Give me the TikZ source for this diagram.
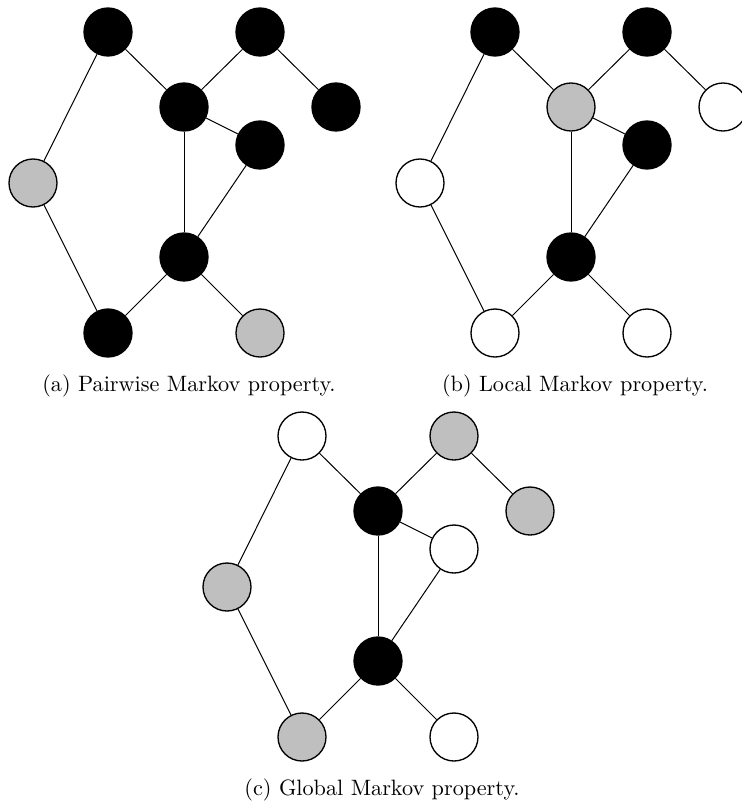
\documentclass[tikz,border=0pt]{standalone}
\definecolor{nodegray}{RGB}{191,191,191}
\tikzset{
  vtx/.style={circle, draw=black, line width=0.6pt, minimum size=21.6pt, inner sep=0pt},
  blk/.style={vtx, fill=black},
  gry/.style={vtx, fill=nodegray},
  wht/.style={vtx, fill=white},
  edge/.style={draw=black, line width=0.45pt},
  captext/.style={anchor=base, inner sep=0pt, font=\fontsize{10}{12}\selectfont}
}
\begin{document}
\begin{tikzpicture}[x=0.45pt, y=-0.45pt]
\useasboundingbox (0,0) rectangle (742,802);

% ---------- (a) Pairwise ----------
\begin{scope}
  \node[blk] (aA) at (108,32) {};
  \node[blk] (aB) at (260,32) {};
  \node[blk] (aC) at (184,107) {};
  \node[blk] (aD) at (336,107) {};
  \node[blk] (aE) at (260,145) {};
  \node[gry] (aF) at (33,183) {};
  \node[blk] (aG) at (184,257) {};
  \node[blk] (aH) at (108,333) {};
  \node[gry] (aI) at (260,333) {};
  \draw[edge] (aA) -- (aF);
  \draw[edge] (aA) -- (aC);
  \draw[edge] (aB) -- (aC);
  \draw[edge] (aB) -- (aD);
  \draw[edge] (aC) -- (aE);
  \draw[edge] (aC) -- (aG);
  \draw[edge] (aE) -- (aG);
  \draw[edge] (aF) -- (aH);
  \draw[edge] (aG) -- (aH);
  \draw[edge] (aG) -- (aI);
  \node[captext] (acap) at (189,391.5) {(a) Pairwise Markov property.};
\end{scope}

% ---------- (b) Local ----------
\begin{scope}[shift={(387,0)}]
  \node[blk] (bA) at (108,32) {};
  \node[blk] (bB) at (260,32) {};
  \node[gry] (bC) at (184,107) {};
  \node[wht] (bD) at (336,107) {};
  \node[blk] (bE) at (260,145) {};
  \node[wht] (bF) at (33,183) {};
  \node[blk] (bG) at (184,257) {};
  \node[wht] (bH) at (108,333) {};
  \node[wht] (bI) at (260,333) {};
  \draw[edge] (bA) -- (bF);
  \draw[edge] (bA) -- (bC);
  \draw[edge] (bB) -- (bC);
  \draw[edge] (bB) -- (bD);
  \draw[edge] (bC) -- (bE);
  \draw[edge] (bC) -- (bG);
  \draw[edge] (bE) -- (bG);
  \draw[edge] (bF) -- (bH);
  \draw[edge] (bG) -- (bH);
  \draw[edge] (bG) -- (bI);
  \node[captext] (bcap) at (188,391.5) {(b) Local Markov property.};
\end{scope}

% ---------- (c) Global ----------
\begin{scope}[shift={(194,404)}]
  \node[wht] (cA) at (108,32) {};
  \node[gry] (cB) at (260,32) {};
  \node[blk] (cC) at (184,107) {};
  \node[gry] (cD) at (336,107) {};
  \node[wht] (cE) at (260,145) {};
  \node[gry] (cF) at (33,183) {};
  \node[blk] (cG) at (184,257) {};
  \node[gry] (cH) at (108,333) {};
  \node[wht] (cI) at (260,333) {};
  \draw[edge] (cA) -- (cF);
  \draw[edge] (cA) -- (cC);
  \draw[edge] (cB) -- (cC);
  \draw[edge] (cB) -- (cD);
  \draw[edge] (cC) -- (cE);
  \draw[edge] (cC) -- (cG);
  \draw[edge] (cE) -- (cG);
  \draw[edge] (cF) -- (cH);
  \draw[edge] (cG) -- (cH);
  \draw[edge] (cG) -- (cI);
  \node[captext] (ccap) at (188,391) {(c) Global Markov property.};
\end{scope}
\end{tikzpicture}
\end{document}
